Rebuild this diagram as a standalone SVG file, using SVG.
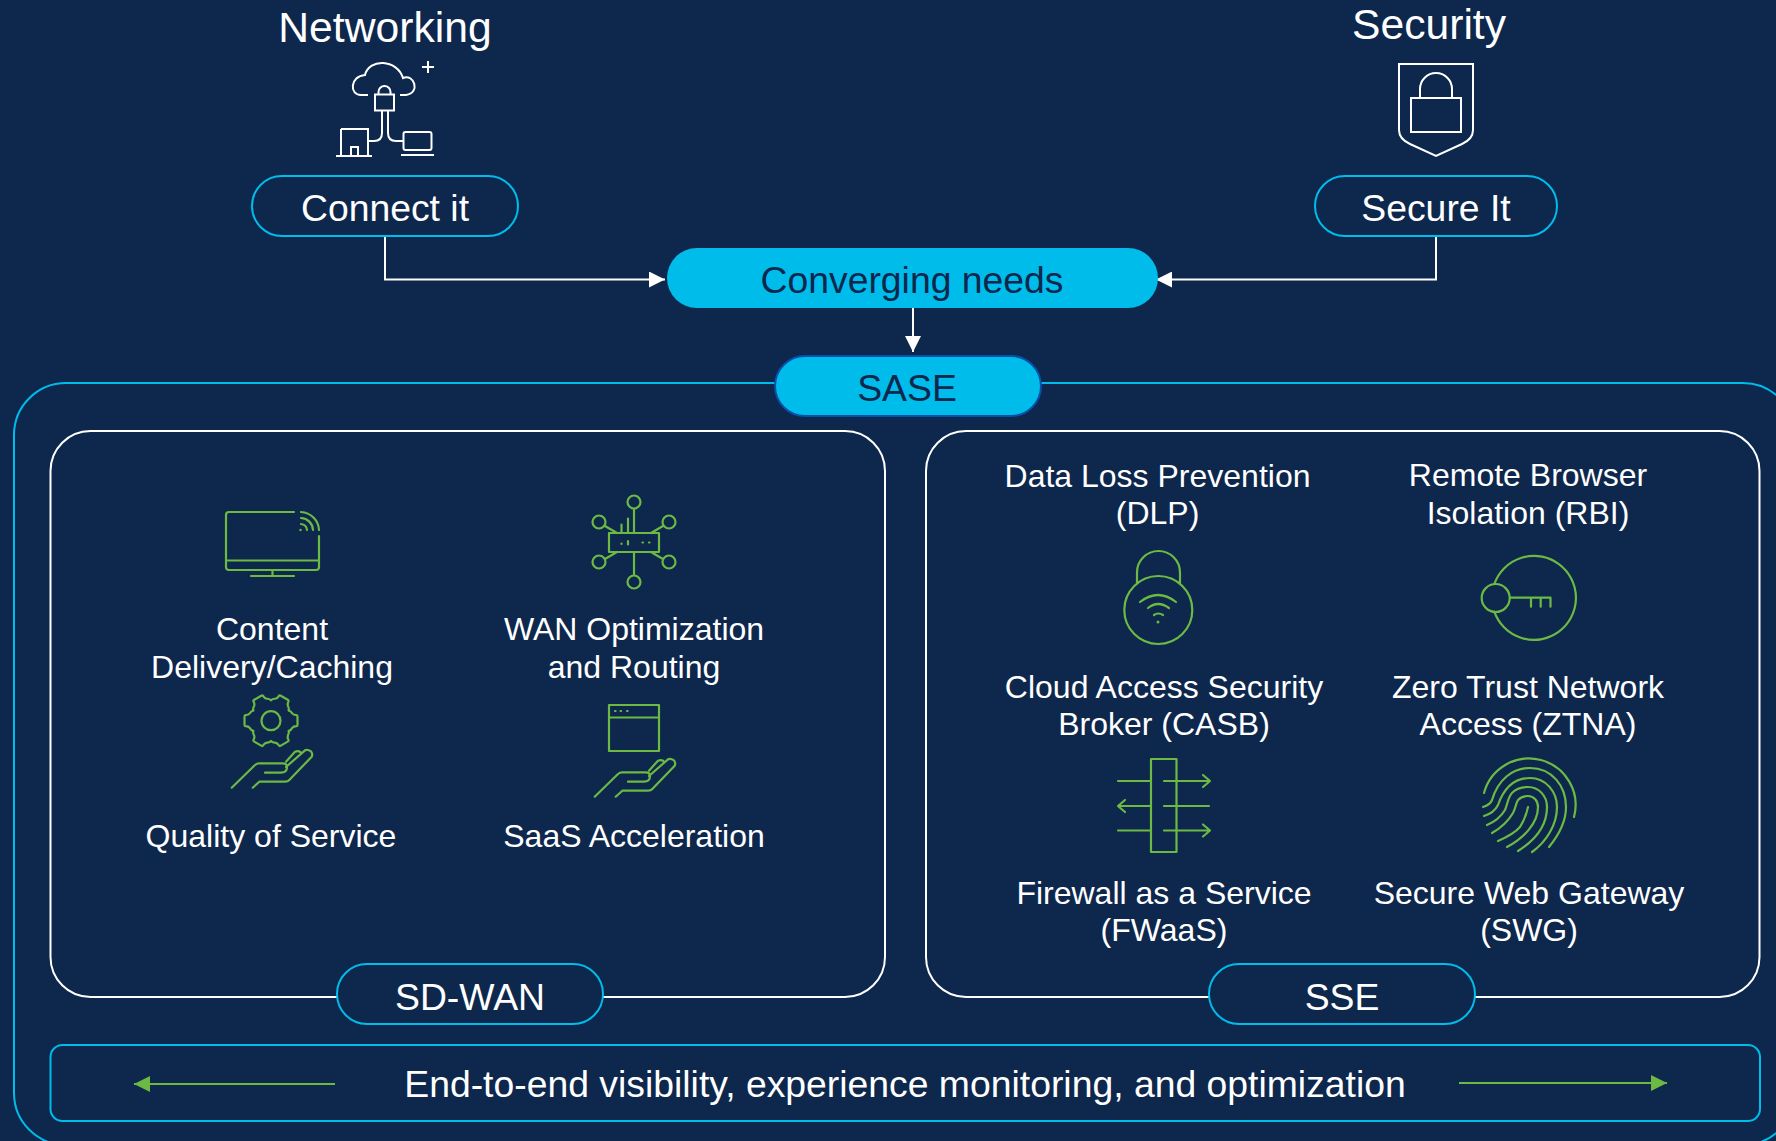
<svg xmlns="http://www.w3.org/2000/svg" width="1776" height="1141" viewBox="0 0 1776 1141">
<defs>
<style>
text{font-family:"Liberation Sans",Arial,sans-serif;fill:#fff;text-anchor:middle}
.t{font-size:32px}
.h{font-size:42.67px}
.p{font-size:37.33px}
.w{fill:none;stroke:#fff;stroke-width:2}
.g{fill:none;stroke:#6cb944;stroke-width:2.2;stroke-linecap:round;stroke-linejoin:round}
.pill{fill:#0d274d;stroke:#00bceb;stroke-width:2}
.solid{fill:#00bceb;stroke:#0a4fa8;stroke-width:2}
.dark{fill:#0d274d;font-size:37.33px}
.conn{fill:none;stroke:#fff;stroke-width:2}
</style>
<marker id="arrow" markerWidth="17" markerHeight="16" refX="16" refY="8" orient="auto" markerUnits="userSpaceOnUse"><path d="M0 0L16 8L0 16z" fill="#fff"/></marker>
<marker id="garrow" markerWidth="17" markerHeight="16" refX="16" refY="8" orient="auto" markerUnits="userSpaceOnUse"><path d="M0 0L16 8L0 16z" fill="#6cb944"/></marker>
<g id="hand"><path class="g" d="M0.7 36.7L24 14Q26 12.3 28 12.3H52Q56 12.3 56 16Q56 21.7 50 21.7H34"/><path class="g" d="M21.7 36.7L28.3 30.7H54Q57 30.7 58.3 29L80.7 5.7Q82 3 80 0.3Q76.5 -2 74 -0.7L55 16"/><path class="g" d="M55 10.7L64 0.7Q67 -0.5 69 0.7L70 2"/></g>
<path id="tooth" class="g" d="M17.75 -10.25Q20 -9.5 21 -7.5Q22.5 -5.5 25.5 -5.5Q26.5 -5.5 26.5 -4V4Q26.5 5.5 25.5 5.5Q22.5 5.5 21 7.5Q20 9.5 17.75 10.25"/>
</defs>
<rect width="1776" height="1141" fill="#0d274d"/>
<g id="frame"><rect x="14" y="383" width="1781" height="762" rx="52" fill="none" stroke="#00bceb" stroke-width="2"/></g>
<g id="connectors">
<path class="conn" d="M385 236V279.5H665" marker-end="url(#arrow)"/>
<path class="conn" d="M1436 236V279.5H1156" marker-end="url(#arrow)"/>
<path class="conn" d="M913 308V352" marker-end="url(#arrow)"/>
</g>
<g id="networking"><text class="h" x="385" y="42">Networking</text>
<path class="w" d="M368 95H361C349 95 350 76 365 75C369 58 397 59 403 78C414 73 421 93 406 95H400"/>
<path class="w" d="M422 67H434M428 61V73"/>
<rect class="w" x="375" y="94.5" width="19" height="16"/><path class="w" d="M378.500 94V92a6 6 0 0 1 12 0V94"/>
<path class="w" d="M382 110V133Q382 141 374 141H368M388 110V133Q388 141 396 141H403"/>
<path class="w" d="M341 129H368V156M341 129V156M336 156H372"/><rect class="w" x="351" y="147" width="7" height="9"/>
<rect class="w" x="403.500" y="132" width="28" height="18" rx="2"/><path class="w" d="M401 155H434"/>
</g>
<g id="connect-it"><rect class="pill" x="252" y="176" width="266" height="60" rx="30"/><text class="p" x="385" y="221">Connect it</text></g>
<g id="security"><text class="h" x="1429" y="39">Security</text>
<path class="w" d="M1399 64H1473V130Q1473 139 1462 144L1436 156L1410 144Q1399 139 1399 130Z"/>
<rect class="w" x="1411" y="98" width="50" height="34"/><path class="w" d="M1420 98V89a16 16 0 0 1 32 0V98"/>
</g>
<g id="secure-it"><rect class="pill" x="1315" y="176" width="242" height="60" rx="30"/><text class="p" x="1436" y="221">Secure It</text></g>
<g id="converging"><rect x="667" y="248" width="491" height="60" rx="30" fill="#00bceb"/><text class="dark" x="912" y="293">Converging needs</text></g>
<g id="sase"><rect class="solid" x="775" y="356" width="266" height="60" rx="30"/><text class="dark" x="907" y="401">SASE</text></g>
<g id="sdwan-box"><rect class="w" x="50.500" y="431" width="834.500" height="566" rx="40"/></g>
<g id="sse-box"><rect class="w" x="926" y="431" width="833.500" height="566" rx="40"/></g>
<g id="sdwan"><rect class="pill" x="337" y="964" width="266" height="60" rx="30"/><text class="p" x="470" y="1010">SD-WAN</text></g>
<g id="sse"><rect class="pill" x="1209" y="964" width="266" height="60" rx="30"/><text class="p" x="1342" y="1010">SSE</text></g>
<g id="cdn">
<path class="g" d="M294 512H229Q226 512 226 515V567Q226 570 229 570H316Q319 570 319 567V536M226 560.500H319M272.500 570V576M251 576H294"/>
<path class="g" d="M301 512A19 19 0 0 1 319 530M301 518A12.500 12.500 0 0 1 313 530M301 524A6.500 6.500 0 0 1 307 530"/><circle cx="300.500" cy="530" r="1.200" fill="#6cb944"/>
<text class="t" x="272" y="640">Content</text><text class="t" x="272" y="678">Delivery/Caching</text>
</g>
<g id="wan">
<rect class="g" x="609" y="533" width="50" height="19"/>
<circle class="g" cx="634" cy="502" r="6.500"/><circle class="g" cx="634" cy="582" r="6.500"/><circle class="g" cx="599" cy="522" r="6.500"/><circle class="g" cx="669" cy="522" r="6.500"/><circle class="g" cx="599" cy="562" r="6.500"/><circle class="g" cx="669" cy="562" r="6.500"/>
<path class="g" d="M634 509V533M634 552V575M605 526L617 533M663 526L651 533M605 559L617 552M663 559L651 552M621.500 533V524.500M628 533V518.500"/>
<path class="g" d="M621.500 543.500V544M628 541V544.500M642.500 542.500H643M649 542.500H649.500"/>
<text class="t" x="634" y="640">WAN Optimization</text><text class="t" x="634" y="678">and Routing</text>
</g>
<g id="qos">
<g transform="translate(271 720.700)"><use href="#tooth"/><use href="#tooth" transform="rotate(60)"/><use href="#tooth" transform="rotate(120)"/><use href="#tooth" transform="rotate(180)"/><use href="#tooth" transform="rotate(240)"/><use href="#tooth" transform="rotate(300)"/></g>
<circle class="g" cx="271" cy="720.700" r="9.500"/>
<use href="#hand" x="231" y="751"/>
<text class="t" x="271" y="847">Quality of Service</text>
</g>
<g id="saas">
<rect class="g" x="609" y="705" width="50" height="46"/><path class="g" d="M609 717.500H659"/>
<path d="M615 711h.6M620.500 711h.6M627 711h.6" class="g"/>
<use href="#hand" x="594" y="760"/>
<text class="t" x="634" y="847">SaaS Acceleration</text>
</g>
<g id="dlp">
<text class="t" x="1157.500" y="487">Data Loss Prevention</text><text class="t" x="1157.500" y="524">(DLP)</text>
<path class="g" d="M1137 583V572.500a21.500 21.500 0 0 1 43 0V583"/><circle class="g" cx="1158.300" cy="610" r="34"/>
<path class="g" d="M1140 602Q1158 588 1176 602M1148 608Q1158 600 1169 608M1154 615Q1158 612 1163 615"/><circle cx="1158" cy="622" r="1.500" fill="#6cb944"/>
</g>
<g id="rbi">
<text class="t" x="1528" y="486">Remote Browser</text><text class="t" x="1528" y="524">Isolation (RBI)</text>
<path class="g" d="M1494.300 584A42 42 0 1 1 1494.300 611.700"/><circle class="g" cx="1495.700" cy="598" r="14"/>
<path class="g" d="M1510 597.700H1550.500M1531 597.700V606.700M1540.700 597.700V606.700M1550.500 597.700V606.700"/>
</g>
<g id="casb">
<text class="t" x="1164" y="698">Cloud Access Security</text><text class="t" x="1164" y="735">Broker (CASB)</text>
<rect class="g" x="1151" y="759" width="25.500" height="93"/>
<path class="g" d="M1118 781H1151M1164 781H1210M1203 775L1210 781L1203 787M1118 806H1151M1125 800L1118 806L1125 812M1164 806H1209M1118 830.500H1151M1164 830.500H1210M1203 824.500L1210 830.500L1203 836.500"/>
</g>
<g id="ztna">
<text class="t" x="1528" y="698">Zero Trust Network</text><text class="t" x="1528" y="735">Access (ZTNA)</text>
<path class="g" d="M1484 793A46 46 0 0 1 1574 817"/>
<path class="g" d="M1483 807Q1490 805 1492 800C1498 780 1512 768 1530 768C1552 768 1566 786 1566 807C1566 822 1558 836 1549 847"/>
<path class="g" d="M1484 816Q1494 813 1498 805C1504 788 1514 778 1530 778C1546 778 1557 792 1557 807C1557 825 1546 842 1532 852"/>
<path class="g" d="M1487 825Q1499 820 1505 810C1508 803 1508 796 1513 792C1517 788 1522 787 1528 787C1539 787 1547 796 1547 807C1547 826 1534 841 1518 851"/>
<path class="g" d="M1492 833Q1506 825 1513 813C1516 807 1516 803 1518 800Q1522 796 1528 796C1534 796 1538 801 1538 807C1538 823 1524 838 1507 847"/>
<path class="g" d="M1498 841Q1514 834 1520 827Q1526 817 1528 807"/>
</g>
<g id="fwaas"><text class="t" x="1164" y="904">Firewall as a Service</text><text class="t" x="1164" y="941">(FWaaS)</text></g>
<g id="swg"><text class="t" x="1529" y="904">Secure Web Gateway</text><text class="t" x="1529" y="941">(SWG)</text></g>
<g id="visibility"><rect x="50.500" y="1045" width="1709.500" height="76" rx="12" fill="none" stroke="#00bceb" stroke-width="2"/>
<text class="p" x="905" y="1097">End-to-end visibility, experience monitoring, and optimization</text>
<path d="M335 1084H134" stroke="#6cb944" stroke-width="2" marker-end="url(#garrow)"/>
<path d="M1459 1083H1667" stroke="#6cb944" stroke-width="2" marker-end="url(#garrow)"/>
</g>
</svg>
